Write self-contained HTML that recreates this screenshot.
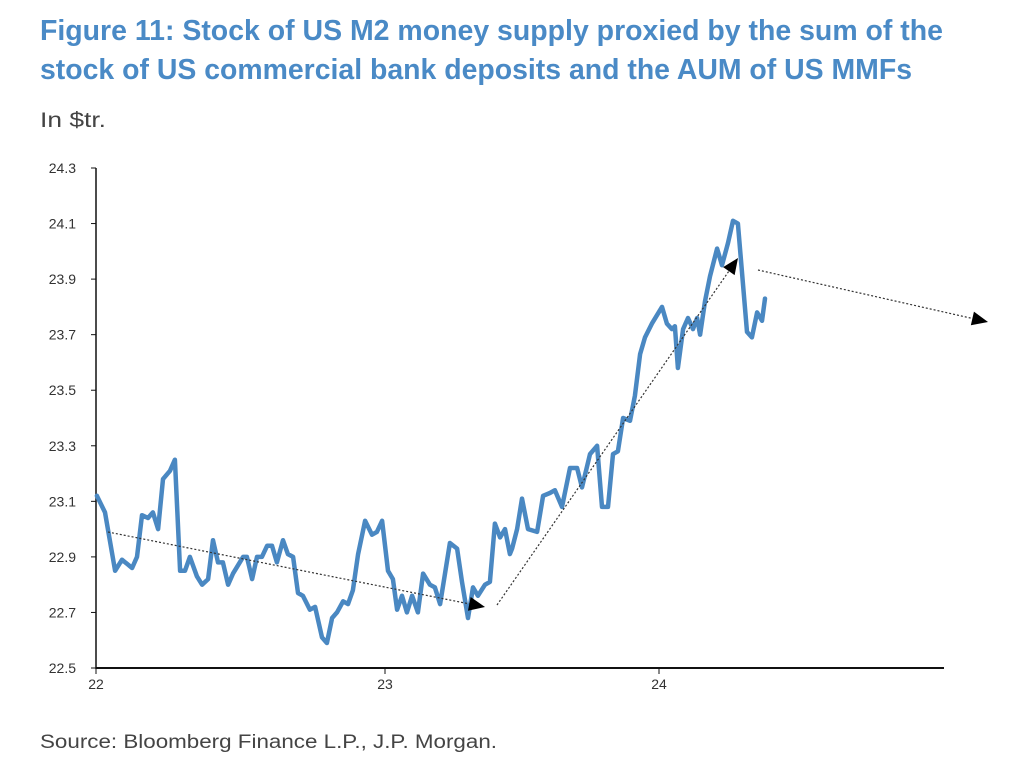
<!DOCTYPE html>
<html><head><meta charset="utf-8"><style>
body{margin:0;background:#fff;width:1024px;height:765px;overflow:hidden}
svg{display:block}
</style></head><body>
<svg width="1024" height="765">
<text x="40" y="40" font-family="Liberation Sans, sans-serif" font-weight="bold" font-size="29" fill="#4a8ac6" textLength="903" lengthAdjust="spacingAndGlyphs">Figure 11: Stock of US M2 money supply proxied by the sum of the</text>
<text x="40" y="79" font-family="Liberation Sans, sans-serif" font-weight="bold" font-size="29" fill="#4a8ac6" textLength="872" lengthAdjust="spacingAndGlyphs">stock of US commercial bank deposits and the AUM of US MMFs</text>
<text x="40" y="127" font-family="Liberation Sans, sans-serif" font-size="21" fill="#444" textLength="66" lengthAdjust="spacingAndGlyphs">In $tr.</text>
<text x="40" y="748" font-family="Liberation Sans, sans-serif" font-size="19" fill="#444" textLength="457" lengthAdjust="spacingAndGlyphs">Source: Bloomberg Finance L.P., J.P. Morgan.</text>
<g id="axes"></g>
<g id="plot"></g>
<g id="notes"></g>
</svg>
<script>
const yTicks=[22.5,22.7,22.9,23.1,23.3,23.5,23.7,23.9,24.1,24.3];
const xTicks=[22,23,24];
const xLabels=["22","23","24"];
const dates=[22.003,22.031,22.066,22.09,22.125,22.142,22.159,22.18,22.197,22.215,22.232,22.256,22.273,22.291,22.308,22.325,22.349,22.367,22.388,22.405,22.422,22.439,22.457,22.474,22.509,22.522,22.54,22.557,22.574,22.592,22.609,22.626,22.647,22.664,22.682,22.699,22.716,22.74,22.758,22.782,22.799,22.817,22.834,22.855,22.872,22.889,22.907,22.931,22.955,22.972,22.99,
23.011,23.029,23.044,23.062,23.08,23.099,23.12,23.139,23.164,23.182,23.201,23.219,23.237,23.263,23.281,23.303,23.321,23.339,23.365,23.383,23.401,23.42,23.438,23.456,23.464,23.482,23.5,23.522,23.555,23.577,23.602,23.62,23.646,23.675,23.701,23.719,23.748,23.774,23.792,23.814,23.832,23.85,23.869,23.894,23.912,23.931,23.949,23.974,
24.011,24.029,24.047,24.058,24.069,24.088,24.106,24.124,24.139,24.15,24.168,24.186,24.212,24.23,24.252,24.27,24.288,24.321,24.339,24.358,24.376,24.387];
const values=[23.12,23.06,22.85,22.89,22.86,22.90,23.05,23.04,23.06,23.00,23.18,23.21,23.25,22.85,22.85,22.90,22.83,22.80,22.82,22.96,22.88,22.88,22.80,22.84,22.90,22.90,22.82,22.90,22.90,22.94,22.94,22.88,22.96,22.91,22.90,22.77,22.76,22.71,22.72,22.61,22.59,22.68,22.70,22.74,22.73,22.78,22.91,23.03,22.98,22.99,23.03,
22.85,22.82,22.71,22.76,22.70,22.76,22.70,22.84,22.80,22.79,22.73,22.84,22.95,22.93,22.81,22.68,22.79,22.76,22.80,22.81,23.02,22.97,23.00,22.91,22.93,23.00,23.11,23.00,22.99,23.12,23.13,23.14,23.08,23.22,23.22,23.15,23.27,23.30,23.08,23.08,23.27,23.28,23.40,23.39,23.48,23.63,23.69,23.74,
23.80,23.74,23.72,23.73,23.58,23.72,23.76,23.72,23.76,23.70,23.82,23.91,24.01,23.95,24.03,24.11,24.10,23.71,23.69,23.78,23.75,23.83];
const NS='http://www.w3.org/2000/svg';
function yS(v){return 668-(v-22.5)/1.8*500;}
function xS(t){if(t<=23)return 96+(t-22)*289;if(t<=24)return 385+(t-23)*274;return 659+(t-24)*274;}
function mk(tag,attrs,parent){const e=document.createElementNS(NS,tag);for(const k in attrs)e.setAttribute(k,attrs[k]);parent.appendChild(e);return e;}
const ax=document.getElementById('axes');
let e=mk('line',{x1:96,y1:168,x2:96,y2:669,stroke:'#111','stroke-width':1.5},ax);


e=mk('line',{x1:96,y1:668,x2:944,y2:668,stroke:'#111','stroke-width':2},ax);


yTicks.forEach(v=>{
 const t=mk('line',{x1:91,y1:yS(v),x2:96,y2:yS(v),stroke:'#111','stroke-width':1},ax);
 
 
 const l=mk('text',{x:76,y:yS(v)+5,'text-anchor':'end','font-family':'Liberation Sans, sans-serif','font-size':14,fill:'#333'},ax);
 l.textContent=v.toFixed(1);
 
 
});
xTicks.forEach((v,i)=>{
 const t=mk('line',{x1:xS(v),y1:668,x2:xS(v),y2:674,stroke:'#111','stroke-width':1},ax);
 
 
 const l=mk('text',{x:xS(v),y:689,'text-anchor':'middle','font-family':'Liberation Sans, sans-serif','font-size':14,fill:'#333'},ax);
 l.textContent=xLabels[i];
 
 
});
const pl=document.getElementById('plot');
const line=mk('polyline',{points:dates.map((d,i)=>xS(d).toFixed(1)+','+yS(values[i]).toFixed(1)).join(' '),fill:'none',stroke:'#4a88c2','stroke-width':4.5,'stroke-linejoin':'round','stroke-linecap':'round'},pl);


const nt=document.getElementById('notes');
const arrows=[[108,532,485,607],[497,605,738,258],[758,270,988,322]];
arrows.forEach(a=>{
 const [x1,y1,x2,y2]=a;const ang=Math.atan2(y2-y1,x2-x1);const L=16,W=7;
 const bx=x2-L*Math.cos(ang),by=y2-L*Math.sin(ang);
 const ln=mk('line',{x1:x1,y1:y1,x2:bx,y2:by,stroke:'#333','stroke-width':1.2,'stroke-dasharray':'2,2'},nt);
 
 
 const px=-Math.sin(ang),py=Math.cos(ang);
 const hd=mk('polygon',{points:`${x2},${y2} ${bx+px*W},${by+py*W} ${bx-px*W},${by-py*W}`,fill:'#000'},nt);
 
 
});
</script>
</body></html>
